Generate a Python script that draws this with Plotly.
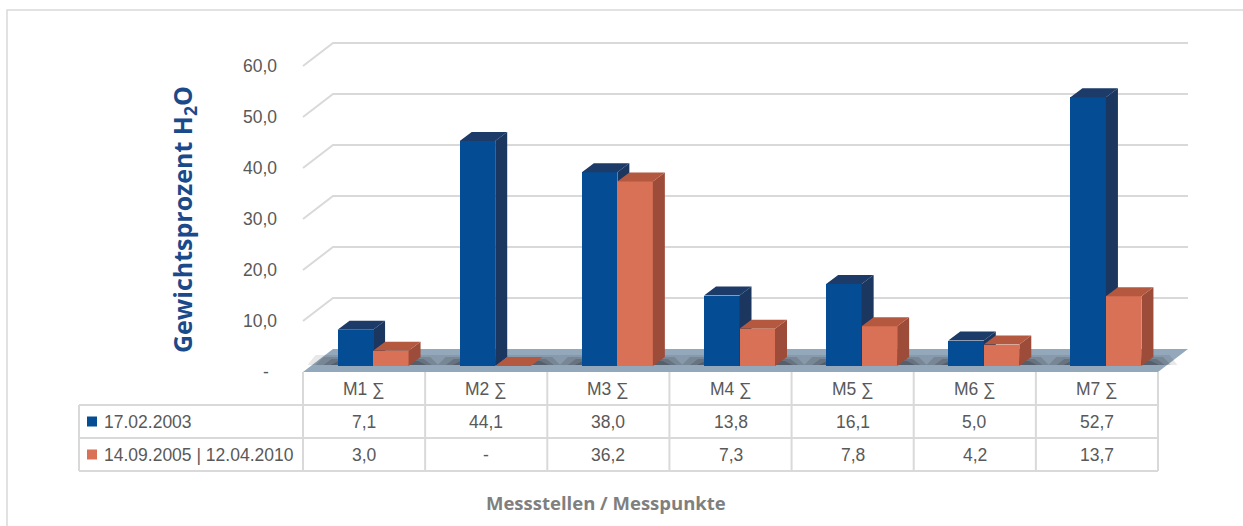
import plotly.graph_objects as go

# ---------------- data ----------------
categories = ["M1 ∑", "M2 ∑", "M3 ∑", "M4 ∑", "M5 ∑", "M6 ∑", "M7 ∑"]
series_names = ["17.02.2003", "14.09.2005 | 12.04.2010"]
values_2003 = [7.1, 44.1, 38.0, 13.8, 16.1, 5.0, 52.7]
values_2005_2010 = [3.0, None, 36.2, 7.3, 7.8, 4.2, 13.7]
y_ticks = [0, 10, 20, 30, 40, 50, 60]
y_tick_labels = ["-", "10,0", "20,0", "30,0", "40,0", "50,0", "60,0"]
y_title = "<b>Gewichtsprozent H<sub>2</sub>O</b>"
x_title = "<b>Messstellen / Messpunkte</b>"

# ---------------- styles ----------------
BLUE = dict(front="#044C93", side="#1B365F", top="#1D3B68")
ORANGE = dict(front="#D87155", side="#9E4C3A", top="#B4593F")
GRID = "#D9D9D9"
FLOOR = "#93A8BB"
TEXT = "#595959"
FONT = "Liberation Sans, Arial, sans-serif"
FS = 17.5

W, H = 1243, 526
X0_PX, X1_PX = 303, 1158          # table / category edges
Y0_PX = 372                       # value 0 at front
PX_PER_UNIT = 5.1
N = len(categories)
PX_PER_CAT = (X1_PX - X0_PX) / N
DEPTH = (30, 23)                  # floor depth in px (right, up)
BAR_SHIFT = (9, 6)                # bar front face offset into floor
BAR_DEPTH = (12, 9)               # bar depth in px
BAR_W_PX = 35.5

def ux(px):
    return px / PX_PER_CAT

def uy(px):
    return px / PX_PER_UNIT

def paper_x(px):
    return px / W

def paper_y(py):
    return 1 - py / H

xrange_ = [-0.5 - X0_PX / PX_PER_CAT, -0.5 + (W - X0_PX) / PX_PER_CAT]
yrange_ = [-(H - Y0_PX) / PX_PER_UNIT, Y0_PX / PX_PER_UNIT]

fig = go.Figure()

# ---------------- background: back wall gridlines, floor, shadows ----------------
ddx, ddy = ux(DEPTH[0]), uy(DEPTH[1])
for v in y_ticks[1:]:
    fig.add_trace(go.Scatter(
        x=[-0.5, -0.5 + ddx, N - 0.5 + ddx], y=[v, v + ddy, v + ddy],
        mode="lines", line=dict(color=GRID, width=2), hoverinfo="skip",
        showlegend=False, xaxis="x", yaxis="y"))

fig.add_trace(go.Scatter(
    x=[-0.5, N - 0.5, N - 0.5 + ddx, -0.5 + ddx, -0.5],
    y=[0, 0, ddy, ddy, 0], fill="toself", fillcolor=FLOOR,
    mode="lines", line=dict(width=0, color=FLOOR), hoverinfo="skip",
    showlegend=False, xaxis="x", yaxis="y"))

# soft shadows behind bar bases
sx, sy = ux(BAR_SHIFT[0]), uy(BAR_SHIFT[1])
bw = ux(BAR_W_PX)
for spread, hgt, alpha in [(30, 10, 0.10), (22, 8, 0.14), (14, 6, 0.18), (7, 4, 0.22)]:
    xs, ys = [], []
    for i in range(N):
        left = i + sx - bw - ux(spread)
        right = i + sx + bw + ux(BAR_DEPTH[0]) + ux(spread * 0.8)
        yb = sy + uy(1)
        h = uy(hgt)
        xs += [left, left + ux(8), right - ux(8), right, left, None]
        ys += [yb, yb + h, yb + h, yb, yb, None]
    fig.add_trace(go.Scatter(
        x=xs, y=ys, fill="toself", fillcolor=f"rgba(25,25,30,{alpha})",
        mode="lines", line=dict(width=0, color="rgba(0,0,0,0)"),
        hoverinfo="skip", showlegend=False, xaxis="x", yaxis="y"))

# ---------------- bars ----------------
bdx, bdy = ux(BAR_DEPTH[0]), uy(BAR_DEPTH[1])

def add_series(values, colors, offset, xa, ya, name):
    vals = [0 if v is None else v for v in values]
    fig.add_trace(go.Bar(
        x=list(range(N)), y=vals,
        base=[sy] * N, offset=offset, width=bw,
        marker=dict(color=colors["front"], line=dict(width=0)),
        name=name, showlegend=False, xaxis=xa, yaxis=ya))
    side_x, side_y, top_x, top_y = [], [], [], []
    for i, v in enumerate(vals):
        xl = i + offset
        xr = xl + bw
        b = sy
        t = sy + v
        side_x += [xr, xr + bdx, xr + bdx, xr, xr, None]
        side_y += [b, b + bdy, t + bdy, t, b, None]
        top_x += [xl, xr, xr + bdx, xl + bdx, xl, None]
        top_y += [t, t, t + bdy, t + bdy, t, None]
    fig.add_trace(go.Scatter(
        x=side_x, y=side_y, fill="toself", fillcolor=colors["side"],
        mode="lines", line=dict(width=0, color=colors["side"]),
        hoverinfo="skip", showlegend=False, xaxis=xa, yaxis=ya))
    fig.add_trace(go.Scatter(
        x=top_x, y=top_y, fill="toself", fillcolor=colors["top"],
        mode="lines", line=dict(width=0, color=colors["top"]),
        hoverinfo="skip", showlegend=False, xaxis=xa, yaxis=ya))

add_series(values_2003, BLUE, sx - bw, "x2", "y2", series_names[0])
add_series(values_2005_2010, ORANGE, sx, "x3", "y3", series_names[1])

# ---------------- axes ----------------
ax = dict(range=xrange_, domain=[0, 1], visible=False, fixedrange=True)
ay = dict(range=yrange_, domain=[0, 1], visible=False, fixedrange=True)
fig.update_layout(
    xaxis=ax, yaxis=ay,
    xaxis2=dict(ax, overlaying="x"), yaxis2=dict(ay, overlaying="y"),
    xaxis3=dict(ax, overlaying="x"), yaxis3=dict(ay, overlaying="y"),
)

shapes = []
annotations = []

# outer frame
shapes.append(dict(type="rect", xref="paper", yref="paper",
                   x0=paper_x(7), x1=1.02, y0=-0.05, y1=paper_y(10),
                   line=dict(color="#D9D9D9", width=1.5), layer="below"))

# y tick labels
for v, lab in zip(y_ticks, y_tick_labels):
    annotations.append(dict(
        x=paper_x(279) if lab != "-" else paper_x(271), y=v, xref="paper", yref="y",
        text=lab, showarrow=False, xanchor="right", yanchor="middle",
        font=dict(family=FONT, size=FS, color=TEXT)))

# y axis title
annotations.append(dict(
    x=paper_x(183), y=paper_y(220), xref="paper", yref="paper",
    xanchor="center", yanchor="middle",
    text=y_title, textangle=-90, showarrow=False,
    font=dict(family="Open Sans, sans-serif", size=25, color="#1A4A8A")))

# x axis title
annotations.append(dict(
    x=paper_x(606), y=paper_y(502), xref="paper", yref="paper",
    xanchor="center", yanchor="middle",
    text=x_title, showarrow=False,
    font=dict(family="Open Sans, sans-serif", size=18.5, color="#7F7F7F")))

# ---------------- data table ----------------
ROW_Y = [372, 405, 438, 471]
LEFT_PX = 79
for k in range(N + 1):
    shapes.append(dict(type="line", xref="x", yref="paper",
                       x0=k - 0.5, x1=k - 0.5, y0=paper_y(ROW_Y[0]), y1=paper_y(ROW_Y[3]),
                       line=dict(color=GRID, width=2)))
for ry in ROW_Y[1:]:
    shapes.append(dict(type="line", xref="paper", yref="paper",
                       x0=paper_x(LEFT_PX), x1=paper_x(X1_PX), y0=paper_y(ry), y1=paper_y(ry),
                       line=dict(color=GRID, width=2)))
shapes.append(dict(type="line", xref="paper", yref="paper",
                   x0=paper_x(LEFT_PX), x1=paper_x(LEFT_PX),
                   y0=paper_y(ROW_Y[1]), y1=paper_y(ROW_Y[3]),
                   line=dict(color=GRID, width=2)))

def fmt(v):
    return "-" if v is None else f"{v:.1f}".replace(".", ",")

row_centers = [(ROW_Y[i] + ROW_Y[i + 1]) / 2 for i in range(3)]
for i, c in enumerate(categories):
    annotations.append(dict(x=i, y=paper_y(row_centers[0]), xref="x", yref="paper",
                            xanchor="center", yanchor="middle",
                            text=c, showarrow=False,
                            font=dict(family=FONT, size=FS, color=TEXT)))
    for r, vals in enumerate([values_2003, values_2005_2010]):
        annotations.append(dict(x=i, y=paper_y(row_centers[r + 1]), xref="x", yref="paper",
                                xanchor="center", yanchor="middle",
                                text=fmt(vals[i]), showarrow=False,
                                font=dict(family=FONT, size=FS, color=TEXT)))

for r, (name, col) in enumerate(zip(series_names, [BLUE["front"], ORANGE["front"]])):
    cy = row_centers[r + 1]
    shapes.append(dict(type="rect", xref="paper", yref="paper",
                       x0=paper_x(87), x1=paper_x(97), y0=paper_y(cy + 5), y1=paper_y(cy - 5),
                       fillcolor=col, line=dict(width=0)))
    annotations.append(dict(x=paper_x(102), y=paper_y(cy), xref="paper", yref="paper",
                            text=name, showarrow=False, xanchor="left", yanchor="middle",
                            font=dict(family=FONT, size=FS, color=TEXT)))

fig.update_layout(
    width=W, height=H, autosize=False,
    margin=dict(l=0, r=0, t=0, b=0),
    paper_bgcolor="white", plot_bgcolor="rgba(0,0,0,0)",
    showlegend=False, bargap=0,
    shapes=shapes, annotations=annotations,
)

fig.write_html("out.html")
